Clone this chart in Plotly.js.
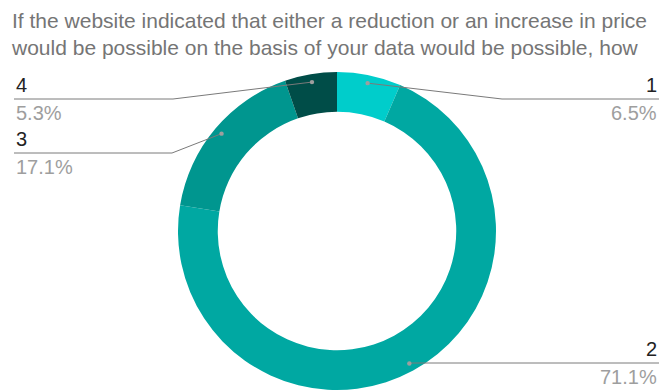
<!DOCTYPE html>
<html>
<head>
<meta charset="utf-8">
<script src="https://cdn.plot.ly/plotly-3.0.1.min.js"></script>
<style>html,body{margin:0;padding:0;background:#fff;}#chart{width:662px;height:392px;}</style>
</head>
<body>
<div id="chart"></div>
<script>
// ---- data ----
const labels = ['1', '2', '3', '4'];
const values = [6.5, 71.1, 17.1, 5.3];
const percentText = ['6.5%', '71.1%', '17.1%', '5.3%'];
const colors = ['#00CDCB', '#00A8A2', '#00968F', '#004D48'];
const titleText = 'If the website indicated that either a reduction or an increase in price<br>would be possible on the basis of your data would be possible, how';

// ---- layout geometry (pixels) ----
const W = 662, H = 392;
const cx = 337, cy = 231, R = 159, hole = 0.75;
const dotR = 151;
// label placement: side, y of horizontal leader, elbow x (null = straight)
const labelSide = ['right', 'right', 'left', 'left'];
const lineY = [99, 363, 153, 99];
const elbowX = [502, null, 172, 173];
const edgeL = 14, edgeR = 659;
const FONT = '"Liberation Sans", Arial, sans-serif';

const px = x => x / W;
const py = y => 1 - y / H;

const total = values.reduce((a, b) => a + b, 0);
let cum = 0;
const shapes = [];
const annotations = [];
values.forEach((v, i) => {
  const mid = (cum + v / 2) / total * 2 * Math.PI;
  cum += v;
  const dx = cx + dotR * Math.sin(mid);
  const dy = cy - dotR * Math.cos(mid);
  const endX = labelSide[i] === 'right' ? edgeR : edgeL;
  const ex = elbowX[i] === null ? dx : elbowX[i];
  const path = `M ${px(dx)} ${py(dy)} L ${px(ex)} ${py(lineY[i])} L ${px(endX)} ${py(lineY[i])}`;
  shapes.push({type: 'path', xref: 'paper', yref: 'paper', path: path,
    line: {color: '#7a7a7a', width: 1}});
  shapes.push({type: 'circle', xref: 'paper', yref: 'paper',
    x0: px(dx - 2.2), x1: px(dx + 2.2), y0: py(dy - 2.2), y1: py(dy + 2.2),
    fillcolor: '#9e9e9e', line: {width: 0}});
  const anchor = labelSide[i] === 'right' ? 'right' : 'left';
  annotations.push({xref: 'paper', yref: 'paper', x: px(endX), y: py(lineY[i] - 1),
    xanchor: anchor, yanchor: 'bottom', showarrow: false, text: labels[i],
    font: {family: FONT, size: 20, color: '#222222'}});
  annotations.push({xref: 'paper', yref: 'paper', x: px(endX), y: py(lineY[i] + 1),
    xanchor: anchor, yanchor: 'top', showarrow: false, text: percentText[i],
    font: {family: FONT, size: 20, color: '#9e9e9e'}});
});

const data = [{
  type: 'pie',
  labels: labels,
  values: values,
  sort: false,
  direction: 'clockwise',
  rotation: 0,
  hole: hole,
  textinfo: 'none',
  hoverinfo: 'label+percent',
  marker: {colors: colors, line: {color: '#ffffff', width: 0}},
  domain: {x: [px(cx - R), px(cx + R)], y: [py(cy + R), py(cy - R)]},
  showlegend: false
}];

const layout = {
  width: W, height: H,
  margin: {l: 0, r: 0, t: 0, b: 0},
  paper_bgcolor: '#ffffff',
  title: {text: titleText, x: px(12), xanchor: 'left', xref: 'paper',
    y: py(28), yanchor: 'top', yref: 'container',
    font: {family: FONT, size: 21, color: '#757575'}},
  shapes: shapes,
  annotations: annotations,
  showlegend: false
};

Plotly.newPlot('chart', data, layout, {displayModeBar: false, staticPlot: true});
</script>
</body>
</html>
